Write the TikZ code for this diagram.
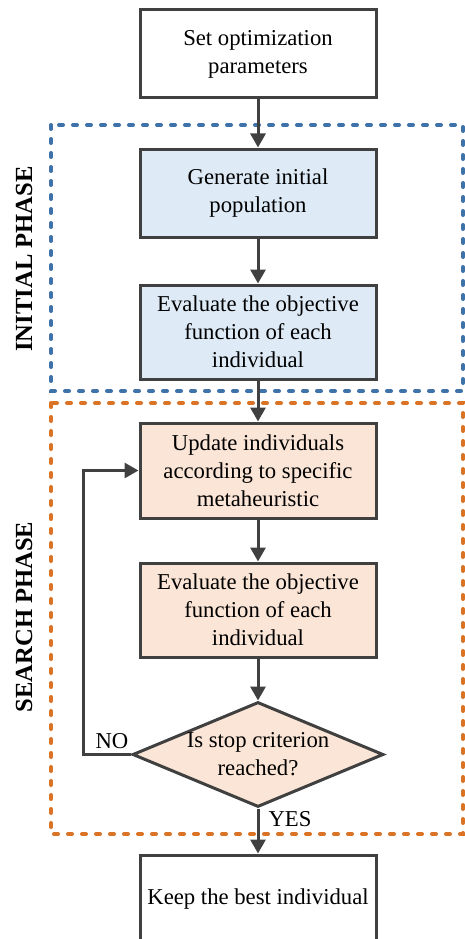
\documentclass[tikz,border=0pt]{standalone}
\usepackage{fontspec}
\setmainfont{Liberation Serif}
\usetikzlibrary{shapes.geometric,arrows.meta}
\definecolor{edge}{HTML}{404040}
\definecolor{bluefill}{HTML}{DEEBF7}
\definecolor{orangefill}{HTML}{FBE5D6}
\definecolor{bluedash}{HTML}{3F72A8}
\definecolor{orangedash}{HTML}{DA7324}
\tikzset{
  stepbox/.style={draw=edge, line width=3pt, minimum width=236pt, inner sep=0pt, align=center,
    font=\fontsize{22.7}{28}\selectfont},
  phasebox/.style={line width=4pt, line cap=round, dash pattern=on 4pt off 10pt},
  phaselabel/.style={rotate=90, font=\fontsize{24.6}{28}\selectfont\bfseries},
  arr/.style={draw=edge, line width=3pt, -{Triangle[length=14pt,width=15pt]}},
  lbl/.style={font=\fontsize{22.7}{28}\selectfont, inner sep=0pt}
}
\begin{document}
\begin{tikzpicture}[x=1pt,y=-1pt]
\useasboundingbox (0,0) rectangle (465,939);
% phase frames
\draw[phasebox, draw=bluedash] (51,125) rectangle (463,391);
\draw[phasebox, draw=orangedash] (51,403) rectangle (463,834);
\node[phaselabel] (initlbl) at (24,259) {INITIAL PHASE};
\node[phaselabel] (searchlbl) at (24,617) {SEARCH PHASE};
% steps
\node[stepbox, fill=white, minimum height=88pt] (b1) at (258,54) {Set optimization\\parameters};
\node[stepbox, fill=bluefill, minimum height=88pt] (b2) at (258,193) {Generate initial\\population};
\node[stepbox, fill=bluefill, minimum height=94pt] (b3) at (258,332) {Evaluate the objective\\function of each\\individual};
\node[stepbox, fill=orangefill, minimum height=95pt] (b4) at (258,470.5) {Update individuals\\according to specific\\metaheuristic};
\node[stepbox, fill=orangefill, minimum height=94pt] (b5) at (258,610) {Evaluate the objective\\function of each\\individual};
\node[diamond, draw=edge, fill=orangefill, line width=3pt, minimum width=251pt, minimum height=105pt, inner sep=0pt] (d) at (258,754.5) {};
\node[lbl, align=center] (dtext) at (258,754) {Is stop criterion\\reached?};
\node[stepbox, fill=white, minimum height=88pt] (b6) at (258,899) {Keep the best individual};
% connectors
\draw[arr] (b1.south) -- (b2.north);
\draw[arr] (b2.south) -- (b3.north);
\draw[arr] (b3.south) -- (b4.north);
\draw[arr] (b4.south) -- (b5.north);
\draw[arr] (b5.south) -- (d.north);
\draw[arr] (d.south) -- (b6.north);
\coordinate (fb) at (83,754.5);
\draw[arr] (d.west) -- (fb) |- (b4.west);
\node[lbl] (no) at (112,741) {NO};
\node[lbl] (yes) at (290,819) {YES};
\end{tikzpicture}
\end{document}
